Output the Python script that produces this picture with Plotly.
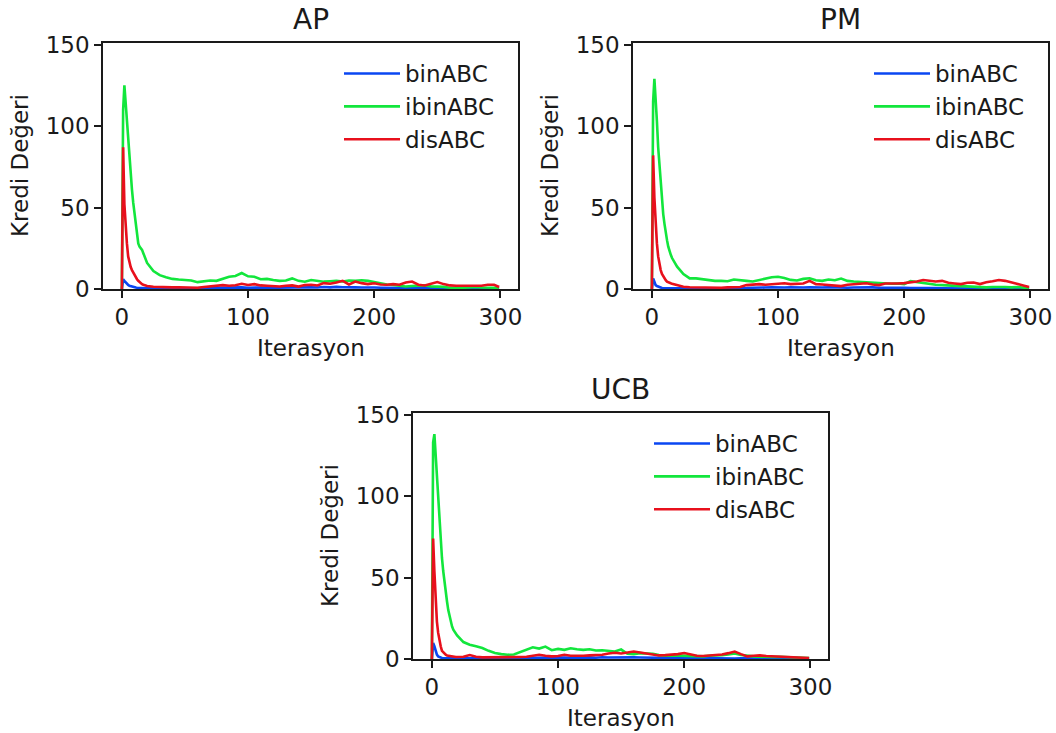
import plotly.graph_objects as go

W, H = 1056, 733

# iteration axis: dense at start, then every 5 iterations
X = list(range(20)) + list(range(20, 300, 5)) + [299]

series_names = ["binABC", "ibinABC", "disABC"]
colors = ["#0a46f2", "#12e63c", "#e8101c"]
panel_titles = ["AP", "PM", "UCB"]
x_ticks = [0, 100, 200, 300]
y_ticks = [0, 50, 100, 150]
x_label = "Iterasyon"
y_label = "Kredi Değeri"

# ---------------- AP ----------------
ap_bin = [0, 6, 5, 4, 3.2, 2.5, 2, 1.7, 1.5, 1.2, 1, 0.9, 0.8, 0.7, 0.7, 0.6, 0.6, 0.5, 0.5, 0.5,
          0.5, 0.4, 0.3, 0.4, 0.3, 0.4, 0.3, 0.4, 0.5, 0.4,
          0.6, 0.8, 1.0, 0.9, 1.2, 1.0, 0.8, 1.0, 0.9, 0.7,
          0.8, 0.9, 0.8, 0.7, 0.9, 1.0, 1.1, 0.9, 1.2, 1.0,
          1.3, 1.1, 1.2, 1.0, 0.9, 1.1, 0.9, 0.8, 0.7, 0.8,
          0.6, 0.7, 0.5, 0.6, 0.5, 0.4, 0.5, 0.4, 0.3, 0.4,
          0.3, 0.3, 0.4, 0.3, 0.3, 0.2, 0.2]
ap_ibin = [0, 110, 125, 114, 103, 89, 79, 69, 61, 53, 46, 38, 32, 28, 26, 25, 24, 22, 20, 18,
           16, 11, 8.5, 7.2, 6.2, 5.8, 5.5, 5.2, 4.2, 4.8,
           5.2, 5.0, 6.3, 7.5, 8.0, 9.8, 7.8, 7.5, 6.0, 6.2,
           5.5, 5.0, 5.2, 6.5, 5.0, 4.5, 5.5, 5.0, 4.5, 4.8,
           5.0, 4.6, 5.2, 5.0, 5.4, 5.0, 4.2, 3.4, 2.8, 2.5,
           2.2, 1.5, 1.8, 2.0, 2.2, 1.6, 1.5, 1.3, 0.8, 0.6,
           0.8, 1.0, 1.3, 0.9, 1.0, 0.8, 0.5]
ap_dis = [0, 87, 52, 36, 28, 20, 16, 13.5, 11.6, 10, 8.6, 7, 6, 5, 4.2, 3.5, 3, 2.6, 2.2, 2,
          1.8, 1.4, 1.2, 1.3, 1.0, 1.1, 0.9, 1.0, 0.8, 1.2,
          1.5, 2.2, 2.4, 2.0, 2.3, 3.2, 2.5, 3.0, 2.2, 2.0,
          1.8, 1.5, 2.0, 2.2, 1.5, 2.4, 2.6, 2.2, 3.6, 3.2,
          4.0, 5.0, 2.8, 4.6, 3.6, 3.0, 3.5, 2.8, 2.6, 3.0,
          2.6, 4.0, 4.6, 2.6, 2.2, 3.2, 4.3, 3.0, 2.2, 2.0,
          1.8, 2.0, 2.0, 2.0, 2.6, 2.6, 1.2]

# ---------------- PM ----------------
pm_bin = [0, 6.5, 4.5, 2.4, 1.8, 1.4, 1.1, 0.8, 0.6, 0.5, 0.5, 0.4, 0.4, 0.4, 0.3, 0.3, 0.3, 0.3, 0.3, 0.3,
          0.3, 0.3, 0.2, 0.3, 0.2, 0.3, 0.3, 0.2, 0.3, 0.4,
          0.5, 0.6, 0.8, 0.7, 0.9, 1.0, 0.8, 0.9, 1.0, 0.8,
          0.9, 1.0, 0.8, 0.9, 1.1, 0.9, 1.0, 0.8, 0.9, 1.0,
          0.9, 1.0, 0.8, 0.9, 0.8, 0.7, 0.8, 0.6, 0.7, 0.6,
          0.5, 0.6, 0.5, 0.4, 0.5, 0.4, 0.3, 0.4, 0.3, 0.3,
          0.3, 0.2, 0.3, 0.2, 0.3, 0.2, 0.2]
pm_ibin = [0, 115, 129, 118, 103, 87, 75, 65, 55, 46, 40, 34, 30, 26, 23, 21, 19, 17.7, 16.2, 15,
           13.7, 9.2, 6.5, 6.5, 6.0, 5.5, 5.0, 5.0, 4.8, 5.8,
           5.2, 5.0, 4.6, 5.5, 6.5, 7.2, 7.5, 6.8, 5.6, 5.2,
           6.2, 6.6, 5.4, 5.0, 5.8, 5.4, 6.4, 5.0, 4.6, 4.4,
           4.2, 3.6, 3.8, 3.4, 3.2, 3.4, 3.0, 4.8, 4.2, 3.6,
           3.2, 2.6, 2.4, 2.2, 2.0, 1.8, 1.4, 1.6, 1.2, 1.0,
           1.2, 1.4, 1.2, 1.0, 1.2, 0.8, 0.5]
pm_dis = [0, 82, 56, 40, 28, 20, 14.7, 11.6, 9.2, 7.6, 6.5, 5.4, 4.5, 4.0, 3.7, 3.5, 3.2, 3.0, 3.0, 2.7,
          2.4, 1.4, 1.1, 1.0, 1.0, 0.9, 1.0, 0.8, 1.0, 1.0,
          1.2, 2.4, 2.6, 3.0, 2.6, 3.0, 3.2, 3.5, 3.0, 3.0,
          3.4, 5.0, 3.0, 2.8, 2.4, 2.2, 1.8, 2.6, 3.0, 3.2,
          3.5, 2.8, 2.4, 3.4, 3.2, 3.4, 3.6, 4.0, 4.6, 5.5,
          5.2, 4.6, 5.0, 3.8, 3.4, 3.0, 3.8, 4.0, 3.0, 4.2,
          4.8, 5.5, 5.0, 3.8, 3.0, 2.0, 1.2]

# ---------------- UCB ----------------
ucb_bin = [0, 9.8, 7.8, 4.7, 2.7, 1.6, 1.1, 0.8, 0.6, 0.5, 0.5, 0.4, 0.4, 0.3, 0.3, 0.3, 0.3, 0.3, 0.3, 0.3,
           0.3, 0.2, 0.3, 0.2, 0.3, 0.2, 0.3, 0.3, 0.2, 0.3,
           0.4, 0.5, 0.7, 0.8, 0.9, 0.8, 1.0, 0.9, 0.8, 1.0,
           0.9, 1.0, 0.8, 1.1, 0.9, 1.0, 1.1, 0.9, 1.0, 0.9,
           0.8, 0.9, 1.0, 0.8, 0.7, 0.6, 0.7, 0.6, 0.5, 0.6,
           0.5, 0.4, 0.5, 0.4, 0.3, 0.4, 0.3, 0.3, 0.2, 0.3,
           0.2, 0.3, 0.2, 0.2, 0.2, 0.2, 0.2]
ucb_ibin = [0, 133, 138, 125, 113, 99, 84, 72, 62, 54, 46.5, 40.4, 35.3, 30, 26, 23, 20, 18, 16.5, 15.5,
            14.5, 10.4, 8.8, 7.8, 6.7, 5.0, 3.7, 3.0, 2.6, 2.8,
            4.4, 5.6, 7.2, 6.4, 7.6, 5.4, 6.2, 5.6, 6.6, 6.0,
            5.6, 6.0, 5.2, 5.4, 4.8, 4.6, 5.8, 3.2, 3.0, 3.6,
            3.4, 3.2, 2.4, 2.0, 2.2, 2.0, 2.0, 1.8, 1.6, 1.6,
            2.0, 2.0, 2.4, 2.8, 3.4, 2.4, 1.8, 1.6, 1.4, 1.2,
            1.2, 1.4, 1.2, 1.0, 1.2, 1.0, 0.6]
ucb_dis = [0, 74, 53.7, 35.3, 23, 16, 10.8, 7.8, 5, 4, 3, 2.6, 2.2, 2, 1.8, 1.6, 1.5, 1.4, 1.3, 1.2,
           1.2, 1.4, 2.4, 1.4, 1.0, 1.0, 0.9, 1.0, 1.0, 1.0,
           1.2, 1.4, 2.0, 2.6, 2.0, 1.6, 1.8, 2.6, 2.0, 1.8,
           2.0, 2.2, 2.4, 2.6, 3.4, 3.8, 3.4, 4.0, 4.6, 4.0,
           3.4, 3.0, 2.2, 2.4, 2.6, 3.0, 3.7, 2.8, 2.0, 1.8,
           2.0, 2.4, 2.8, 3.6, 4.6, 3.0, 1.6, 2.0, 2.2, 1.8,
           1.6, 1.4, 1.2, 1.2, 1.0, 0.8, 0.6]

panels = [
    [ap_bin, ap_ibin, ap_dis],
    [pm_bin, pm_ibin, pm_dis],
    [ucb_bin, ucb_ibin, ucb_dis],
]

# panel frames in pixels: (left, right, top, bottom)
frames_px = [(103, 518, 43, 289), (633, 1048, 43, 289), (413, 828, 413, 659)]

FONT = "DejaVu Sans"
TXT = "#1a1a1a"
FS = 23
FS_TITLE = 28

fig = go.Figure()
legend_names = ["legend", "legend2", "legend3"]
axis_suffix = ["", "2", "3"]

for p, data in enumerate(panels):
    for s, vals in enumerate(data):
        fig.add_trace(go.Scatter(
            x=X, y=vals, mode="lines", name=series_names[s],
            line=dict(color=colors[s], width=2.6),
            xaxis="x" + axis_suffix[p], yaxis="y" + axis_suffix[p],
            legend=legend_names[p], legendgroup=f"g{p}{s}",
            showlegend=True,
        ))

layout = dict(
    template="none",
    width=W, height=H, autosize=False,
    margin=dict(l=0, r=0, t=0, b=0, pad=0),
    paper_bgcolor="white", plot_bgcolor="white",
    font=dict(family=FONT, size=FS, color=TXT),
    annotations=[],
)

for p, (l, r, t, b) in enumerate(frames_px):
    sfx = axis_suffix[p]
    xd = [l / W, r / W]
    yd = [1 - b / H, 1 - t / H]
    common = dict(
        ticks="outside", ticklen=7, tickwidth=1.5, tickcolor="#1a1a1a",
        showline=True, linecolor="#1a1a1a", linewidth=1.6, mirror=True,
        showgrid=False, zeroline=False, automargin=False,
        tickfont=dict(family=FONT, size=FS, color=TXT),
    )
    layout["xaxis" + sfx] = dict(domain=xd, range=[-14.95, 313.95], tickvals=x_ticks,
                                 anchor="y" + sfx, **common)
    layout["yaxis" + sfx] = dict(domain=yd, range=[0, 151], tickvals=y_ticks,
                                 anchor="x" + sfx, **common)
    cx = (l + r) / 2
    cy = (t + b) / 2
    layout["annotations"] += [
        dict(text=panel_titles[p], xref="paper", yref="paper", x=cx / W, y=1 - (t - 24) / H,
             xanchor="center", yanchor="middle", showarrow=False,
             font=dict(family=FONT, size=FS_TITLE, color=TXT)),
        dict(text=x_label, xref="paper", yref="paper", x=cx / W, y=1 - (b + 59) / H,
             xanchor="center", yanchor="middle", showarrow=False,
             font=dict(family=FONT, size=FS, color=TXT)),
        dict(text=y_label, xref="paper", yref="paper", x=(l - 83) / W, y=1 - cy / H,
             xanchor="center", yanchor="middle", showarrow=False, textangle=-90,
             font=dict(family=FONT, size=FS, color=TXT)),
    ]
    layout[legend_names[p]] = dict(
        x=(l + 236) / W, y=1 - (t + 9) / H, xanchor="left", yanchor="top",
        bgcolor="rgba(0,0,0,0)", borderwidth=0,
        font=dict(family=FONT, size=FS, color=TXT),
        tracegroupgap=0, itemwidth=56,
    )

fig.update_layout(**layout)
fig.write_html("out.html", config={"displayModeBar": False},
               post_script="document.body.style.margin='0';")
